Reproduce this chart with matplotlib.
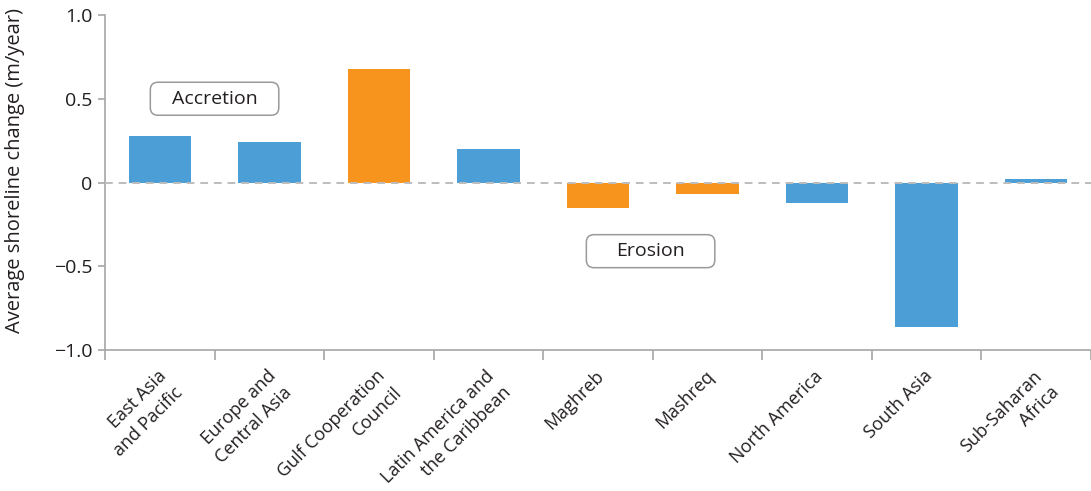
import numpy as np
import matplotlib
matplotlib.use("Agg")
import matplotlib.pyplot as plt
from matplotlib.patches import FancyBboxPatch
from matplotlib.transforms import ScaledTranslation

plt.rcParams["font.family"] = ["Open Sans", "DejaVu Sans"]

regions = ["East Asia\nand Pacific", "Europe and\nCentral Asia", "Gulf Cooperation\nCouncil",
           "Latin America and\nthe Caribbean", "Maghreb", "Mashreq", "North America",
           "South Asia", "Sub-Saharan\nAfrica"]
change = [0.28, 0.24, 0.68, 0.20, -0.15, -0.07, -0.12, -0.86, 0.02]
mena = [False, False, True, False, True, True, False, False, False]
yticks = [-1.0, -0.5, 0, 0.5, 1.0]
ytick_labels = ["\u22121.0", "\u22120.5", "0", "0.5", "1.0"]

BLUE, ORANGE, GREY, INK = "#4C9ED6", "#F7941D", "#A6A6A6", "#231F20"

fig = plt.figure(figsize=(10.91, 4.91), dpi=100)
ax = fig.add_axes([105 / 1091, 141 / 491, 986 / 1091, 335 / 491])
x = np.arange(len(regions))
ax.bar(x, change, width=0.57, color=[ORANGE if m else BLUE for m in mena], zorder=2)
ax.axhline(0, color="#BDBDBD", lw=1.4, ls=(0, (4, 3)), zorder=3)

ax.set_xlim(-0.5, -0.5 + 986 / 110)
ax.set_ylim(-1.0, 1.0)
ax.set_yticks(yticks, ytick_labels)
# ticks sit between categories; the category names are drawn line by line below
ax.set_xticks(np.arange(-0.5, len(regions), 1.0))
ax.tick_params(axis="x", length=7, width=1.2, color=GREY, direction="out", labelbottom=False)
ax.tick_params(axis="y", length=5, width=1.2, color=GREY, labelsize=14, labelcolor=INK, pad=4)
for s in ["top", "right"]:
    ax.spines[s].set_visible(False)
for s in ["left", "bottom"]:
    ax.spines[s].set_color(GREY)
    ax.spines[s].set_linewidth(1.2)
ax.set_ylabel("Average shoreline change (m/year)", fontsize=14.5, color=INK)
ax.yaxis.set_label_coords(-0.081, 0.535)

LINE = 23 / 100 * 0.7071   # line step (inches) along each diagonal axis
for xi, lab in zip(x, regions):
    for j, line in enumerate(lab.split("\n")):
        off = ScaledTranslation(0.07 + j * LINE, -0.27 - j * LINE, fig.dpi_scale_trans)
        ax.text(xi, 0, line, transform=ax.get_xaxis_transform() + off, rotation=45,
                rotation_mode="anchor", ha="right", va="baseline", fontsize=13,
                color=INK, clip_on=False)


def label_box(cx, cy, text):
    w, h = 129 / 110, 33 / 167.5
    ax.add_patch(FancyBboxPatch((cx - w / 2, cy - h / 2), w, h,
                                boxstyle="round,pad=0,rounding_size=0.07",
                                mutation_aspect=110 / 167.5, fc="white", ec="#9A9A9A",
                                lw=1.1, zorder=4))
    ax.text(cx, cy, text, ha="center", va="center", fontsize=14, color=INK, zorder=5)


label_box(0.5, 0.50, "Accretion")
label_box(4.48, -0.41, "Erosion")

fig.savefig("out.png", dpi=100)
